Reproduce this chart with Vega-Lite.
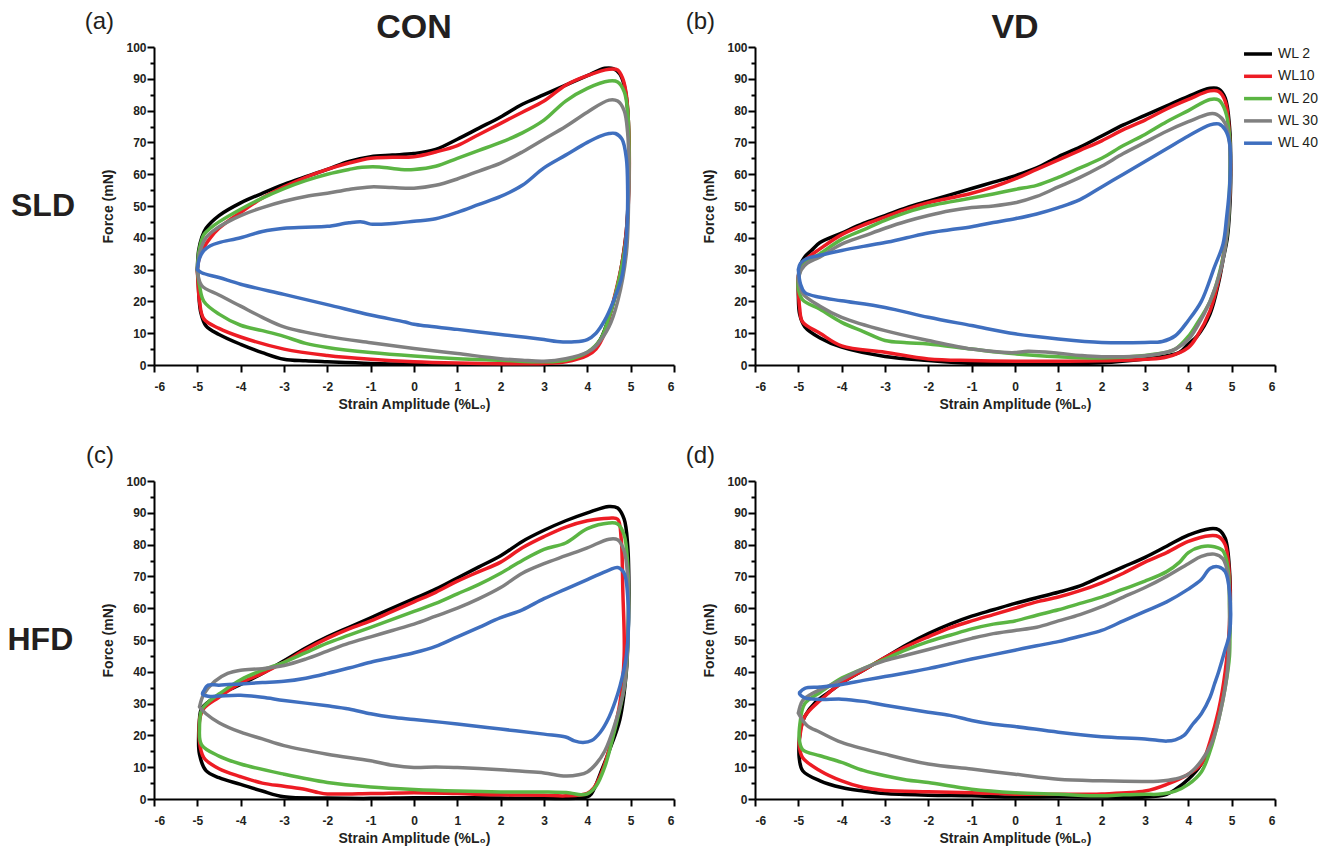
{
"$schema": "https://vega.github.io/schema/vega-lite/v6.json",
"background": "white",
"padding": {"left": 7, "top": 10, "right": 5, "bottom": 5},
"config": {"view": {"stroke": null}, "font": "Liberation Sans"},
"data": {"values": [
{"d":"SLD","g":"CON","lab":"(a)"},
{"d":"SLD","g":"VD","lab":"(b)"},
{"d":"HFD","g":"CON","lab":"(c)"},
{"d":"HFD","g":"VD","lab":"(d)"},
{"d":"SLD","g":"CON","s":"WL 2","x":-5,"y":30},{"d":"SLD","g":"CON","s":"WL 2","x":-4.97,"y":36},{"d":"SLD","g":"CON","s":"WL 2","x":-4.9,"y":40},{"d":"SLD","g":"CON","s":"WL 2","x":-4.8,"y":43},{"d":"SLD","g":"CON","s":"WL 2","x":-4.5,"y":47},{"d":"SLD","g":"CON","s":"WL 2","x":-4,"y":51},{"d":"SLD","g":"CON","s":"WL 2","x":-3.5,"y":54},{"d":"SLD","g":"CON","s":"WL 2","x":-3,"y":56.8},{"d":"SLD","g":"CON","s":"WL 2","x":-2.5,"y":59.2},{"d":"SLD","g":"CON","s":"WL 2","x":-2,"y":61.5},{"d":"SLD","g":"CON","s":"WL 2","x":-1.5,"y":64},{"d":"SLD","g":"CON","s":"WL 2","x":-1,"y":65.5},{"d":"SLD","g":"CON","s":"WL 2","x":-0.5,"y":66},{"d":"SLD","g":"CON","s":"WL 2","x":0,"y":66.5},{"d":"SLD","g":"CON","s":"WL 2","x":0.5,"y":67.8},{"d":"SLD","g":"CON","s":"WL 2","x":1,"y":71},{"d":"SLD","g":"CON","s":"WL 2","x":1.5,"y":74.5},{"d":"SLD","g":"CON","s":"WL 2","x":2,"y":78},{"d":"SLD","g":"CON","s":"WL 2","x":2.5,"y":82},{"d":"SLD","g":"CON","s":"WL 2","x":3,"y":85},{"d":"SLD","g":"CON","s":"WL 2","x":3.5,"y":88},{"d":"SLD","g":"CON","s":"WL 2","x":4,"y":91},{"d":"SLD","g":"CON","s":"WL 2","x":4.4,"y":93.3},{"d":"SLD","g":"CON","s":"WL 2","x":4.6,"y":93.2},{"d":"SLD","g":"CON","s":"WL 2","x":4.75,"y":91.5},{"d":"SLD","g":"CON","s":"WL 2","x":4.85,"y":88},{"d":"SLD","g":"CON","s":"WL 2","x":4.92,"y":82},{"d":"SLD","g":"CON","s":"WL 2","x":4.96,"y":70},{"d":"SLD","g":"CON","s":"WL 2","x":4.95,"y":55},{"d":"SLD","g":"CON","s":"WL 2","x":4.9,"y":42},{"d":"SLD","g":"CON","s":"WL 2","x":4.8,"y":32},{"d":"SLD","g":"CON","s":"WL 2","x":4.7,"y":25},{"d":"SLD","g":"CON","s":"WL 2","x":4.5,"y":15},{"d":"SLD","g":"CON","s":"WL 2","x":4.3,"y":8},{"d":"SLD","g":"CON","s":"WL 2","x":4.1,"y":4.5},{"d":"SLD","g":"CON","s":"WL 2","x":4,"y":3.4},{"d":"SLD","g":"CON","s":"WL 2","x":3.5,"y":1.3},{"d":"SLD","g":"CON","s":"WL 2","x":3,"y":0.6},{"d":"SLD","g":"CON","s":"WL 2","x":2,"y":0.3},{"d":"SLD","g":"CON","s":"WL 2","x":1,"y":0.3},{"d":"SLD","g":"CON","s":"WL 2","x":0,"y":0.3},{"d":"SLD","g":"CON","s":"WL 2","x":-1,"y":0.5},{"d":"SLD","g":"CON","s":"WL 2","x":-2,"y":1},{"d":"SLD","g":"CON","s":"WL 2","x":-2.5,"y":1.3},{"d":"SLD","g":"CON","s":"WL 2","x":-3,"y":1.8},{"d":"SLD","g":"CON","s":"WL 2","x":-3.5,"y":3.9},{"d":"SLD","g":"CON","s":"WL 2","x":-4,"y":6.5},{"d":"SLD","g":"CON","s":"WL 2","x":-4.5,"y":9.6},{"d":"SLD","g":"CON","s":"WL 2","x":-4.8,"y":12.3},{"d":"SLD","g":"CON","s":"WL 2","x":-4.92,"y":16.5},{"d":"SLD","g":"CON","s":"WL 2","x":-4.96,"y":21},{"d":"SLD","g":"CON","s":"WL 2","x":-4.98,"y":26},{"d":"SLD","g":"CON","s":"WL 2","x":-5,"y":30},
{"d":"SLD","g":"CON","s":"WL10","x":-5,"y":30},{"d":"SLD","g":"CON","s":"WL10","x":-4.95,"y":34},{"d":"SLD","g":"CON","s":"WL10","x":-4.85,"y":37},{"d":"SLD","g":"CON","s":"WL10","x":-4.7,"y":40},{"d":"SLD","g":"CON","s":"WL10","x":-4.5,"y":43},{"d":"SLD","g":"CON","s":"WL10","x":-4,"y":48},{"d":"SLD","g":"CON","s":"WL10","x":-3.5,"y":52.5},{"d":"SLD","g":"CON","s":"WL10","x":-3,"y":56},{"d":"SLD","g":"CON","s":"WL10","x":-2.5,"y":59},{"d":"SLD","g":"CON","s":"WL10","x":-2,"y":61.5},{"d":"SLD","g":"CON","s":"WL10","x":-1.5,"y":63.5},{"d":"SLD","g":"CON","s":"WL10","x":-1,"y":65},{"d":"SLD","g":"CON","s":"WL10","x":-0.5,"y":65.3},{"d":"SLD","g":"CON","s":"WL10","x":0,"y":65.5},{"d":"SLD","g":"CON","s":"WL10","x":0.5,"y":67},{"d":"SLD","g":"CON","s":"WL10","x":1,"y":69},{"d":"SLD","g":"CON","s":"WL10","x":1.5,"y":72.5},{"d":"SLD","g":"CON","s":"WL10","x":2,"y":76},{"d":"SLD","g":"CON","s":"WL10","x":2.5,"y":79.5},{"d":"SLD","g":"CON","s":"WL10","x":3,"y":83},{"d":"SLD","g":"CON","s":"WL10","x":3.5,"y":88},{"d":"SLD","g":"CON","s":"WL10","x":4,"y":91},{"d":"SLD","g":"CON","s":"WL10","x":4.5,"y":93},{"d":"SLD","g":"CON","s":"WL10","x":4.7,"y":92.8},{"d":"SLD","g":"CON","s":"WL10","x":4.82,"y":90},{"d":"SLD","g":"CON","s":"WL10","x":4.9,"y":85},{"d":"SLD","g":"CON","s":"WL10","x":4.96,"y":72},{"d":"SLD","g":"CON","s":"WL10","x":4.96,"y":55},{"d":"SLD","g":"CON","s":"WL10","x":4.9,"y":42},{"d":"SLD","g":"CON","s":"WL10","x":4.8,"y":32},{"d":"SLD","g":"CON","s":"WL10","x":4.6,"y":20},{"d":"SLD","g":"CON","s":"WL10","x":4.4,"y":10},{"d":"SLD","g":"CON","s":"WL10","x":4.2,"y":5},{"d":"SLD","g":"CON","s":"WL10","x":4,"y":3},{"d":"SLD","g":"CON","s":"WL10","x":3.5,"y":1},{"d":"SLD","g":"CON","s":"WL10","x":3,"y":0.5},{"d":"SLD","g":"CON","s":"WL10","x":2,"y":0.4},{"d":"SLD","g":"CON","s":"WL10","x":1,"y":0.6},{"d":"SLD","g":"CON","s":"WL10","x":0,"y":1},{"d":"SLD","g":"CON","s":"WL10","x":-1,"y":1.8},{"d":"SLD","g":"CON","s":"WL10","x":-2,"y":3},{"d":"SLD","g":"CON","s":"WL10","x":-3,"y":5},{"d":"SLD","g":"CON","s":"WL10","x":-4,"y":8.8},{"d":"SLD","g":"CON","s":"WL10","x":-4.5,"y":11.5},{"d":"SLD","g":"CON","s":"WL10","x":-4.85,"y":14.5},{"d":"SLD","g":"CON","s":"WL10","x":-4.95,"y":20},{"d":"SLD","g":"CON","s":"WL10","x":-4.98,"y":25},{"d":"SLD","g":"CON","s":"WL10","x":-5,"y":30},
{"d":"SLD","g":"CON","s":"WL 20","x":-5,"y":30},{"d":"SLD","g":"CON","s":"WL 20","x":-4.96,"y":36},{"d":"SLD","g":"CON","s":"WL 20","x":-4.85,"y":41},{"d":"SLD","g":"CON","s":"WL 20","x":-4.7,"y":43},{"d":"SLD","g":"CON","s":"WL 20","x":-4.5,"y":45},{"d":"SLD","g":"CON","s":"WL 20","x":-4,"y":49},{"d":"SLD","g":"CON","s":"WL 20","x":-3.5,"y":52.5},{"d":"SLD","g":"CON","s":"WL 20","x":-3,"y":55.5},{"d":"SLD","g":"CON","s":"WL 20","x":-2.5,"y":58},{"d":"SLD","g":"CON","s":"WL 20","x":-2,"y":60},{"d":"SLD","g":"CON","s":"WL 20","x":-1.5,"y":61.5},{"d":"SLD","g":"CON","s":"WL 20","x":-1.2,"y":62.2},{"d":"SLD","g":"CON","s":"WL 20","x":-0.8,"y":62.3},{"d":"SLD","g":"CON","s":"WL 20","x":-0.3,"y":61.5},{"d":"SLD","g":"CON","s":"WL 20","x":0,"y":61.5},{"d":"SLD","g":"CON","s":"WL 20","x":0.5,"y":62.5},{"d":"SLD","g":"CON","s":"WL 20","x":1,"y":65},{"d":"SLD","g":"CON","s":"WL 20","x":1.5,"y":67.5},{"d":"SLD","g":"CON","s":"WL 20","x":2,"y":70},{"d":"SLD","g":"CON","s":"WL 20","x":2.5,"y":73},{"d":"SLD","g":"CON","s":"WL 20","x":3,"y":77},{"d":"SLD","g":"CON","s":"WL 20","x":3.5,"y":83},{"d":"SLD","g":"CON","s":"WL 20","x":4,"y":87},{"d":"SLD","g":"CON","s":"WL 20","x":4.5,"y":89.3},{"d":"SLD","g":"CON","s":"WL 20","x":4.7,"y":89},{"d":"SLD","g":"CON","s":"WL 20","x":4.85,"y":86},{"d":"SLD","g":"CON","s":"WL 20","x":4.93,"y":80},{"d":"SLD","g":"CON","s":"WL 20","x":4.96,"y":70},{"d":"SLD","g":"CON","s":"WL 20","x":4.95,"y":55},{"d":"SLD","g":"CON","s":"WL 20","x":4.9,"y":40},{"d":"SLD","g":"CON","s":"WL 20","x":4.7,"y":25},{"d":"SLD","g":"CON","s":"WL 20","x":4.5,"y":15},{"d":"SLD","g":"CON","s":"WL 20","x":4.3,"y":8},{"d":"SLD","g":"CON","s":"WL 20","x":4,"y":4},{"d":"SLD","g":"CON","s":"WL 20","x":3.5,"y":1.5},{"d":"SLD","g":"CON","s":"WL 20","x":3,"y":1},{"d":"SLD","g":"CON","s":"WL 20","x":2,"y":1.5},{"d":"SLD","g":"CON","s":"WL 20","x":1,"y":2},{"d":"SLD","g":"CON","s":"WL 20","x":0,"y":2.8},{"d":"SLD","g":"CON","s":"WL 20","x":-1,"y":3.9},{"d":"SLD","g":"CON","s":"WL 20","x":-2,"y":5.5},{"d":"SLD","g":"CON","s":"WL 20","x":-2.5,"y":6.8},{"d":"SLD","g":"CON","s":"WL 20","x":-3,"y":9},{"d":"SLD","g":"CON","s":"WL 20","x":-3.5,"y":10.8},{"d":"SLD","g":"CON","s":"WL 20","x":-4,"y":12.5},{"d":"SLD","g":"CON","s":"WL 20","x":-4.5,"y":16},{"d":"SLD","g":"CON","s":"WL 20","x":-4.85,"y":20},{"d":"SLD","g":"CON","s":"WL 20","x":-4.95,"y":25},{"d":"SLD","g":"CON","s":"WL 20","x":-5,"y":30},
{"d":"SLD","g":"CON","s":"WL 30","x":-5,"y":30},{"d":"SLD","g":"CON","s":"WL 30","x":-4.93,"y":36},{"d":"SLD","g":"CON","s":"WL 30","x":-4.8,"y":40},{"d":"SLD","g":"CON","s":"WL 30","x":-4.6,"y":42.5},{"d":"SLD","g":"CON","s":"WL 30","x":-4.3,"y":45},{"d":"SLD","g":"CON","s":"WL 30","x":-4,"y":47},{"d":"SLD","g":"CON","s":"WL 30","x":-3.5,"y":49.5},{"d":"SLD","g":"CON","s":"WL 30","x":-3,"y":51.5},{"d":"SLD","g":"CON","s":"WL 30","x":-2.5,"y":53},{"d":"SLD","g":"CON","s":"WL 30","x":-2,"y":54},{"d":"SLD","g":"CON","s":"WL 30","x":-1.5,"y":55.2},{"d":"SLD","g":"CON","s":"WL 30","x":-1,"y":56},{"d":"SLD","g":"CON","s":"WL 30","x":-0.5,"y":55.8},{"d":"SLD","g":"CON","s":"WL 30","x":0,"y":55.6},{"d":"SLD","g":"CON","s":"WL 30","x":0.5,"y":56.5},{"d":"SLD","g":"CON","s":"WL 30","x":1,"y":58.5},{"d":"SLD","g":"CON","s":"WL 30","x":1.5,"y":61},{"d":"SLD","g":"CON","s":"WL 30","x":2,"y":63.5},{"d":"SLD","g":"CON","s":"WL 30","x":2.5,"y":67},{"d":"SLD","g":"CON","s":"WL 30","x":3,"y":71},{"d":"SLD","g":"CON","s":"WL 30","x":3.5,"y":75},{"d":"SLD","g":"CON","s":"WL 30","x":4,"y":79.5},{"d":"SLD","g":"CON","s":"WL 30","x":4.5,"y":83.3},{"d":"SLD","g":"CON","s":"WL 30","x":4.7,"y":83},{"d":"SLD","g":"CON","s":"WL 30","x":4.85,"y":80},{"d":"SLD","g":"CON","s":"WL 30","x":4.93,"y":73},{"d":"SLD","g":"CON","s":"WL 30","x":4.96,"y":62},{"d":"SLD","g":"CON","s":"WL 30","x":4.95,"y":50},{"d":"SLD","g":"CON","s":"WL 30","x":4.9,"y":35},{"d":"SLD","g":"CON","s":"WL 30","x":4.7,"y":20},{"d":"SLD","g":"CON","s":"WL 30","x":4.5,"y":12},{"d":"SLD","g":"CON","s":"WL 30","x":4.2,"y":6},{"d":"SLD","g":"CON","s":"WL 30","x":4,"y":4},{"d":"SLD","g":"CON","s":"WL 30","x":3.5,"y":2},{"d":"SLD","g":"CON","s":"WL 30","x":3,"y":1.2},{"d":"SLD","g":"CON","s":"WL 30","x":2.5,"y":1.5},{"d":"SLD","g":"CON","s":"WL 30","x":2,"y":2},{"d":"SLD","g":"CON","s":"WL 30","x":1,"y":3.6},{"d":"SLD","g":"CON","s":"WL 30","x":0,"y":5.2},{"d":"SLD","g":"CON","s":"WL 30","x":-1,"y":7},{"d":"SLD","g":"CON","s":"WL 30","x":-2,"y":9},{"d":"SLD","g":"CON","s":"WL 30","x":-3,"y":12},{"d":"SLD","g":"CON","s":"WL 30","x":-3.5,"y":15},{"d":"SLD","g":"CON","s":"WL 30","x":-4,"y":18.5},{"d":"SLD","g":"CON","s":"WL 30","x":-4.5,"y":22},{"d":"SLD","g":"CON","s":"WL 30","x":-4.9,"y":25},{"d":"SLD","g":"CON","s":"WL 30","x":-5,"y":30},
{"d":"SLD","g":"CON","s":"WL 40","x":-5,"y":30},{"d":"SLD","g":"CON","s":"WL 40","x":-4.95,"y":33.5},{"d":"SLD","g":"CON","s":"WL 40","x":-4.85,"y":36},{"d":"SLD","g":"CON","s":"WL 40","x":-4.7,"y":37.5},{"d":"SLD","g":"CON","s":"WL 40","x":-4.5,"y":38.5},{"d":"SLD","g":"CON","s":"WL 40","x":-4,"y":40},{"d":"SLD","g":"CON","s":"WL 40","x":-3.5,"y":42},{"d":"SLD","g":"CON","s":"WL 40","x":-3,"y":43},{"d":"SLD","g":"CON","s":"WL 40","x":-2.5,"y":43.3},{"d":"SLD","g":"CON","s":"WL 40","x":-2,"y":43.6},{"d":"SLD","g":"CON","s":"WL 40","x":-1.5,"y":44.7},{"d":"SLD","g":"CON","s":"WL 40","x":-1.2,"y":45},{"d":"SLD","g":"CON","s":"WL 40","x":-1,"y":44.3},{"d":"SLD","g":"CON","s":"WL 40","x":-0.5,"y":44.5},{"d":"SLD","g":"CON","s":"WL 40","x":0,"y":45.2},{"d":"SLD","g":"CON","s":"WL 40","x":0.5,"y":46},{"d":"SLD","g":"CON","s":"WL 40","x":1,"y":48},{"d":"SLD","g":"CON","s":"WL 40","x":1.5,"y":50.5},{"d":"SLD","g":"CON","s":"WL 40","x":2,"y":53},{"d":"SLD","g":"CON","s":"WL 40","x":2.5,"y":56.5},{"d":"SLD","g":"CON","s":"WL 40","x":3,"y":62},{"d":"SLD","g":"CON","s":"WL 40","x":3.5,"y":66},{"d":"SLD","g":"CON","s":"WL 40","x":4,"y":70},{"d":"SLD","g":"CON","s":"WL 40","x":4.3,"y":72},{"d":"SLD","g":"CON","s":"WL 40","x":4.5,"y":72.8},{"d":"SLD","g":"CON","s":"WL 40","x":4.65,"y":72.8},{"d":"SLD","g":"CON","s":"WL 40","x":4.8,"y":71},{"d":"SLD","g":"CON","s":"WL 40","x":4.9,"y":65},{"d":"SLD","g":"CON","s":"WL 40","x":4.93,"y":55},{"d":"SLD","g":"CON","s":"WL 40","x":4.92,"y":45},{"d":"SLD","g":"CON","s":"WL 40","x":4.88,"y":37},{"d":"SLD","g":"CON","s":"WL 40","x":4.8,"y":28},{"d":"SLD","g":"CON","s":"WL 40","x":4.6,"y":20},{"d":"SLD","g":"CON","s":"WL 40","x":4.4,"y":14},{"d":"SLD","g":"CON","s":"WL 40","x":4.2,"y":10},{"d":"SLD","g":"CON","s":"WL 40","x":4,"y":8},{"d":"SLD","g":"CON","s":"WL 40","x":3.7,"y":7.3},{"d":"SLD","g":"CON","s":"WL 40","x":3.3,"y":7.4},{"d":"SLD","g":"CON","s":"WL 40","x":3,"y":8},{"d":"SLD","g":"CON","s":"WL 40","x":2,"y":9.6},{"d":"SLD","g":"CON","s":"WL 40","x":1,"y":11.2},{"d":"SLD","g":"CON","s":"WL 40","x":0,"y":12.8},{"d":"SLD","g":"CON","s":"WL 40","x":-0.2,"y":13.5},{"d":"SLD","g":"CON","s":"WL 40","x":-1,"y":15.7},{"d":"SLD","g":"CON","s":"WL 40","x":-2,"y":19},{"d":"SLD","g":"CON","s":"WL 40","x":-3,"y":22.2},{"d":"SLD","g":"CON","s":"WL 40","x":-4,"y":25.4},{"d":"SLD","g":"CON","s":"WL 40","x":-4.5,"y":27.5},{"d":"SLD","g":"CON","s":"WL 40","x":-4.9,"y":29},{"d":"SLD","g":"CON","s":"WL 40","x":-5,"y":30},
{"d":"SLD","g":"VD","s":"WL 2","x":-5,"y":28},{"d":"SLD","g":"VD","s":"WL 2","x":-4.95,"y":31.5},{"d":"SLD","g":"VD","s":"WL 2","x":-4.85,"y":34},{"d":"SLD","g":"VD","s":"WL 2","x":-4.7,"y":36},{"d":"SLD","g":"VD","s":"WL 2","x":-4.5,"y":38.5},{"d":"SLD","g":"VD","s":"WL 2","x":-4,"y":41.5},{"d":"SLD","g":"VD","s":"WL 2","x":-3.5,"y":44.5},{"d":"SLD","g":"VD","s":"WL 2","x":-3,"y":47},{"d":"SLD","g":"VD","s":"WL 2","x":-2.5,"y":49.5},{"d":"SLD","g":"VD","s":"WL 2","x":-2,"y":51.5},{"d":"SLD","g":"VD","s":"WL 2","x":-1.5,"y":53.5},{"d":"SLD","g":"VD","s":"WL 2","x":-1,"y":55.5},{"d":"SLD","g":"VD","s":"WL 2","x":-0.5,"y":57.5},{"d":"SLD","g":"VD","s":"WL 2","x":0,"y":59.5},{"d":"SLD","g":"VD","s":"WL 2","x":0.5,"y":62},{"d":"SLD","g":"VD","s":"WL 2","x":1,"y":65.5},{"d":"SLD","g":"VD","s":"WL 2","x":1.5,"y":68.5},{"d":"SLD","g":"VD","s":"WL 2","x":2,"y":72},{"d":"SLD","g":"VD","s":"WL 2","x":2.5,"y":75.5},{"d":"SLD","g":"VD","s":"WL 2","x":3,"y":78.5},{"d":"SLD","g":"VD","s":"WL 2","x":3.5,"y":81.5},{"d":"SLD","g":"VD","s":"WL 2","x":4,"y":84.5},{"d":"SLD","g":"VD","s":"WL 2","x":4.5,"y":87},{"d":"SLD","g":"VD","s":"WL 2","x":4.7,"y":86.8},{"d":"SLD","g":"VD","s":"WL 2","x":4.85,"y":84},{"d":"SLD","g":"VD","s":"WL 2","x":4.95,"y":75},{"d":"SLD","g":"VD","s":"WL 2","x":4.98,"y":60},{"d":"SLD","g":"VD","s":"WL 2","x":4.95,"y":48},{"d":"SLD","g":"VD","s":"WL 2","x":4.9,"y":40},{"d":"SLD","g":"VD","s":"WL 2","x":4.8,"y":33},{"d":"SLD","g":"VD","s":"WL 2","x":4.7,"y":26},{"d":"SLD","g":"VD","s":"WL 2","x":4.5,"y":16},{"d":"SLD","g":"VD","s":"WL 2","x":4.2,"y":9},{"d":"SLD","g":"VD","s":"WL 2","x":4,"y":6.6},{"d":"SLD","g":"VD","s":"WL 2","x":3.8,"y":4},{"d":"SLD","g":"VD","s":"WL 2","x":3.5,"y":2.9},{"d":"SLD","g":"VD","s":"WL 2","x":3,"y":1.9},{"d":"SLD","g":"VD","s":"WL 2","x":2,"y":0.7},{"d":"SLD","g":"VD","s":"WL 2","x":1,"y":0.5},{"d":"SLD","g":"VD","s":"WL 2","x":0,"y":0.5},{"d":"SLD","g":"VD","s":"WL 2","x":-1,"y":0.5},{"d":"SLD","g":"VD","s":"WL 2","x":-2,"y":1.4},{"d":"SLD","g":"VD","s":"WL 2","x":-3,"y":2.7},{"d":"SLD","g":"VD","s":"WL 2","x":-4,"y":5.6},{"d":"SLD","g":"VD","s":"WL 2","x":-4.5,"y":8.5},{"d":"SLD","g":"VD","s":"WL 2","x":-4.85,"y":12},{"d":"SLD","g":"VD","s":"WL 2","x":-4.97,"y":16},{"d":"SLD","g":"VD","s":"WL 2","x":-5,"y":22},{"d":"SLD","g":"VD","s":"WL 2","x":-5,"y":28},
{"d":"SLD","g":"VD","s":"WL10","x":-5,"y":27},{"d":"SLD","g":"VD","s":"WL10","x":-4.95,"y":31},{"d":"SLD","g":"VD","s":"WL10","x":-4.8,"y":33.5},{"d":"SLD","g":"VD","s":"WL10","x":-4.5,"y":36.5},{"d":"SLD","g":"VD","s":"WL10","x":-4,"y":41},{"d":"SLD","g":"VD","s":"WL10","x":-3.5,"y":44},{"d":"SLD","g":"VD","s":"WL10","x":-3,"y":46.5},{"d":"SLD","g":"VD","s":"WL10","x":-2.5,"y":49},{"d":"SLD","g":"VD","s":"WL10","x":-2,"y":51},{"d":"SLD","g":"VD","s":"WL10","x":-1.5,"y":52.5},{"d":"SLD","g":"VD","s":"WL10","x":-1,"y":54},{"d":"SLD","g":"VD","s":"WL10","x":-0.5,"y":56},{"d":"SLD","g":"VD","s":"WL10","x":0,"y":58.5},{"d":"SLD","g":"VD","s":"WL10","x":0.5,"y":61.5},{"d":"SLD","g":"VD","s":"WL10","x":1,"y":64.5},{"d":"SLD","g":"VD","s":"WL10","x":1.5,"y":67.5},{"d":"SLD","g":"VD","s":"WL10","x":2,"y":70.5},{"d":"SLD","g":"VD","s":"WL10","x":2.5,"y":74},{"d":"SLD","g":"VD","s":"WL10","x":3,"y":77},{"d":"SLD","g":"VD","s":"WL10","x":3.5,"y":80.5},{"d":"SLD","g":"VD","s":"WL10","x":4,"y":83.5},{"d":"SLD","g":"VD","s":"WL10","x":4.5,"y":86.2},{"d":"SLD","g":"VD","s":"WL10","x":4.7,"y":86},{"d":"SLD","g":"VD","s":"WL10","x":4.85,"y":83},{"d":"SLD","g":"VD","s":"WL10","x":4.95,"y":72},{"d":"SLD","g":"VD","s":"WL10","x":4.96,"y":55},{"d":"SLD","g":"VD","s":"WL10","x":4.88,"y":42},{"d":"SLD","g":"VD","s":"WL10","x":4.75,"y":30},{"d":"SLD","g":"VD","s":"WL10","x":4.5,"y":17},{"d":"SLD","g":"VD","s":"WL10","x":4.2,"y":9},{"d":"SLD","g":"VD","s":"WL10","x":4,"y":5.5},{"d":"SLD","g":"VD","s":"WL10","x":3.5,"y":2.5},{"d":"SLD","g":"VD","s":"WL10","x":3,"y":1.8},{"d":"SLD","g":"VD","s":"WL10","x":2,"y":1.3},{"d":"SLD","g":"VD","s":"WL10","x":1,"y":1.2},{"d":"SLD","g":"VD","s":"WL10","x":0,"y":1.2},{"d":"SLD","g":"VD","s":"WL10","x":-1,"y":1.4},{"d":"SLD","g":"VD","s":"WL10","x":-2,"y":1.9},{"d":"SLD","g":"VD","s":"WL10","x":-3,"y":4},{"d":"SLD","g":"VD","s":"WL10","x":-4,"y":6},{"d":"SLD","g":"VD","s":"WL10","x":-4.5,"y":10},{"d":"SLD","g":"VD","s":"WL10","x":-4.9,"y":13.5},{"d":"SLD","g":"VD","s":"WL10","x":-4.97,"y":18},{"d":"SLD","g":"VD","s":"WL10","x":-5,"y":24},{"d":"SLD","g":"VD","s":"WL10","x":-5,"y":27},
{"d":"SLD","g":"VD","s":"WL 20","x":-5,"y":27},{"d":"SLD","g":"VD","s":"WL 20","x":-4.93,"y":30.5},{"d":"SLD","g":"VD","s":"WL 20","x":-4.8,"y":32.5},{"d":"SLD","g":"VD","s":"WL 20","x":-4.5,"y":35},{"d":"SLD","g":"VD","s":"WL 20","x":-4,"y":39.5},{"d":"SLD","g":"VD","s":"WL 20","x":-3.5,"y":42.5},{"d":"SLD","g":"VD","s":"WL 20","x":-3,"y":45.5},{"d":"SLD","g":"VD","s":"WL 20","x":-2.5,"y":48},{"d":"SLD","g":"VD","s":"WL 20","x":-2,"y":50},{"d":"SLD","g":"VD","s":"WL 20","x":-1.5,"y":51.3},{"d":"SLD","g":"VD","s":"WL 20","x":-1,"y":52.5},{"d":"SLD","g":"VD","s":"WL 20","x":-0.5,"y":53.8},{"d":"SLD","g":"VD","s":"WL 20","x":0,"y":55.2},{"d":"SLD","g":"VD","s":"WL 20","x":0.5,"y":56.5},{"d":"SLD","g":"VD","s":"WL 20","x":1,"y":59},{"d":"SLD","g":"VD","s":"WL 20","x":1.5,"y":62},{"d":"SLD","g":"VD","s":"WL 20","x":2,"y":65},{"d":"SLD","g":"VD","s":"WL 20","x":2.5,"y":69},{"d":"SLD","g":"VD","s":"WL 20","x":3,"y":72.5},{"d":"SLD","g":"VD","s":"WL 20","x":3.5,"y":76.5},{"d":"SLD","g":"VD","s":"WL 20","x":4,"y":80},{"d":"SLD","g":"VD","s":"WL 20","x":4.5,"y":83.5},{"d":"SLD","g":"VD","s":"WL 20","x":4.7,"y":83.3},{"d":"SLD","g":"VD","s":"WL 20","x":4.85,"y":80},{"d":"SLD","g":"VD","s":"WL 20","x":4.95,"y":72},{"d":"SLD","g":"VD","s":"WL 20","x":4.95,"y":55},{"d":"SLD","g":"VD","s":"WL 20","x":4.9,"y":42},{"d":"SLD","g":"VD","s":"WL 20","x":4.7,"y":28},{"d":"SLD","g":"VD","s":"WL 20","x":4.5,"y":20},{"d":"SLD","g":"VD","s":"WL 20","x":4.2,"y":13},{"d":"SLD","g":"VD","s":"WL 20","x":4,"y":9},{"d":"SLD","g":"VD","s":"WL 20","x":3.7,"y":5},{"d":"SLD","g":"VD","s":"WL 20","x":3.5,"y":4},{"d":"SLD","g":"VD","s":"WL 20","x":3,"y":3},{"d":"SLD","g":"VD","s":"WL 20","x":2,"y":2.2},{"d":"SLD","g":"VD","s":"WL 20","x":1,"y":2.6},{"d":"SLD","g":"VD","s":"WL 20","x":0,"y":3.5},{"d":"SLD","g":"VD","s":"WL 20","x":-1,"y":5},{"d":"SLD","g":"VD","s":"WL 20","x":-2,"y":6.6},{"d":"SLD","g":"VD","s":"WL 20","x":-2.5,"y":7},{"d":"SLD","g":"VD","s":"WL 20","x":-3,"y":7.7},{"d":"SLD","g":"VD","s":"WL 20","x":-3.5,"y":10.5},{"d":"SLD","g":"VD","s":"WL 20","x":-4,"y":13.4},{"d":"SLD","g":"VD","s":"WL 20","x":-4.5,"y":17.5},{"d":"SLD","g":"VD","s":"WL 20","x":-4.9,"y":20.5},{"d":"SLD","g":"VD","s":"WL 20","x":-5,"y":24},{"d":"SLD","g":"VD","s":"WL 20","x":-5,"y":27},
{"d":"SLD","g":"VD","s":"WL 30","x":-5,"y":27},{"d":"SLD","g":"VD","s":"WL 30","x":-4.93,"y":30},{"d":"SLD","g":"VD","s":"WL 30","x":-4.8,"y":32},{"d":"SLD","g":"VD","s":"WL 30","x":-4.5,"y":34},{"d":"SLD","g":"VD","s":"WL 30","x":-4,"y":38},{"d":"SLD","g":"VD","s":"WL 30","x":-3.5,"y":40.5},{"d":"SLD","g":"VD","s":"WL 30","x":-3,"y":43},{"d":"SLD","g":"VD","s":"WL 30","x":-2.5,"y":45.2},{"d":"SLD","g":"VD","s":"WL 30","x":-2,"y":47},{"d":"SLD","g":"VD","s":"WL 30","x":-1.5,"y":48.5},{"d":"SLD","g":"VD","s":"WL 30","x":-1,"y":49.5},{"d":"SLD","g":"VD","s":"WL 30","x":-0.5,"y":50},{"d":"SLD","g":"VD","s":"WL 30","x":0,"y":51},{"d":"SLD","g":"VD","s":"WL 30","x":0.5,"y":53},{"d":"SLD","g":"VD","s":"WL 30","x":1,"y":56},{"d":"SLD","g":"VD","s":"WL 30","x":1.5,"y":59},{"d":"SLD","g":"VD","s":"WL 30","x":2,"y":62.5},{"d":"SLD","g":"VD","s":"WL 30","x":2.5,"y":66.5},{"d":"SLD","g":"VD","s":"WL 30","x":3,"y":70},{"d":"SLD","g":"VD","s":"WL 30","x":3.5,"y":73.5},{"d":"SLD","g":"VD","s":"WL 30","x":4,"y":76.5},{"d":"SLD","g":"VD","s":"WL 30","x":4.5,"y":79},{"d":"SLD","g":"VD","s":"WL 30","x":4.65,"y":78.8},{"d":"SLD","g":"VD","s":"WL 30","x":4.85,"y":76},{"d":"SLD","g":"VD","s":"WL 30","x":4.95,"y":70},{"d":"SLD","g":"VD","s":"WL 30","x":4.96,"y":55},{"d":"SLD","g":"VD","s":"WL 30","x":4.88,"y":40},{"d":"SLD","g":"VD","s":"WL 30","x":4.75,"y":30},{"d":"SLD","g":"VD","s":"WL 30","x":4.5,"y":20},{"d":"SLD","g":"VD","s":"WL 30","x":4.2,"y":12},{"d":"SLD","g":"VD","s":"WL 30","x":4,"y":8},{"d":"SLD","g":"VD","s":"WL 30","x":3.7,"y":5},{"d":"SLD","g":"VD","s":"WL 30","x":3.5,"y":4},{"d":"SLD","g":"VD","s":"WL 30","x":3,"y":2.9},{"d":"SLD","g":"VD","s":"WL 30","x":2,"y":2.6},{"d":"SLD","g":"VD","s":"WL 30","x":1.5,"y":3},{"d":"SLD","g":"VD","s":"WL 30","x":1,"y":3.7},{"d":"SLD","g":"VD","s":"WL 30","x":0.3,"y":4.3},{"d":"SLD","g":"VD","s":"WL 30","x":0,"y":3.9},{"d":"SLD","g":"VD","s":"WL 30","x":-0.3,"y":4},{"d":"SLD","g":"VD","s":"WL 30","x":-1,"y":5},{"d":"SLD","g":"VD","s":"WL 30","x":-2,"y":7.7},{"d":"SLD","g":"VD","s":"WL 30","x":-3,"y":10.8},{"d":"SLD","g":"VD","s":"WL 30","x":-4,"y":15},{"d":"SLD","g":"VD","s":"WL 30","x":-4.5,"y":18.5},{"d":"SLD","g":"VD","s":"WL 30","x":-4.9,"y":22.5},{"d":"SLD","g":"VD","s":"WL 30","x":-5,"y":27},
{"d":"SLD","g":"VD","s":"WL 40","x":-5,"y":30},{"d":"SLD","g":"VD","s":"WL 40","x":-4.95,"y":32},{"d":"SLD","g":"VD","s":"WL 40","x":-4.8,"y":33.5},{"d":"SLD","g":"VD","s":"WL 40","x":-4.5,"y":34.5},{"d":"SLD","g":"VD","s":"WL 40","x":-4,"y":36},{"d":"SLD","g":"VD","s":"WL 40","x":-3.5,"y":37.3},{"d":"SLD","g":"VD","s":"WL 40","x":-3,"y":38.5},{"d":"SLD","g":"VD","s":"WL 40","x":-2.5,"y":40},{"d":"SLD","g":"VD","s":"WL 40","x":-2,"y":41.5},{"d":"SLD","g":"VD","s":"WL 40","x":-1.5,"y":42.5},{"d":"SLD","g":"VD","s":"WL 40","x":-1,"y":43.5},{"d":"SLD","g":"VD","s":"WL 40","x":-0.5,"y":44.8},{"d":"SLD","g":"VD","s":"WL 40","x":0,"y":46},{"d":"SLD","g":"VD","s":"WL 40","x":0.5,"y":47.5},{"d":"SLD","g":"VD","s":"WL 40","x":1,"y":49.5},{"d":"SLD","g":"VD","s":"WL 40","x":1.5,"y":52},{"d":"SLD","g":"VD","s":"WL 40","x":2,"y":56},{"d":"SLD","g":"VD","s":"WL 40","x":2.5,"y":60},{"d":"SLD","g":"VD","s":"WL 40","x":3,"y":64},{"d":"SLD","g":"VD","s":"WL 40","x":3.5,"y":68},{"d":"SLD","g":"VD","s":"WL 40","x":4,"y":72},{"d":"SLD","g":"VD","s":"WL 40","x":4.5,"y":75.5},{"d":"SLD","g":"VD","s":"WL 40","x":4.7,"y":75.8},{"d":"SLD","g":"VD","s":"WL 40","x":4.85,"y":74},{"d":"SLD","g":"VD","s":"WL 40","x":4.95,"y":70},{"d":"SLD","g":"VD","s":"WL 40","x":4.96,"y":58},{"d":"SLD","g":"VD","s":"WL 40","x":4.88,"y":46},{"d":"SLD","g":"VD","s":"WL 40","x":4.8,"y":38},{"d":"SLD","g":"VD","s":"WL 40","x":4.6,"y":30.7},{"d":"SLD","g":"VD","s":"WL 40","x":4.3,"y":20},{"d":"SLD","g":"VD","s":"WL 40","x":4,"y":14},{"d":"SLD","g":"VD","s":"WL 40","x":3.7,"y":9.2},{"d":"SLD","g":"VD","s":"WL 40","x":3.4,"y":7.4},{"d":"SLD","g":"VD","s":"WL 40","x":3,"y":7.1},{"d":"SLD","g":"VD","s":"WL 40","x":2,"y":7.1},{"d":"SLD","g":"VD","s":"WL 40","x":1,"y":8.2},{"d":"SLD","g":"VD","s":"WL 40","x":0,"y":9.8},{"d":"SLD","g":"VD","s":"WL 40","x":-1,"y":12.4},{"d":"SLD","g":"VD","s":"WL 40","x":-2,"y":15},{"d":"SLD","g":"VD","s":"WL 40","x":-3,"y":18.1},{"d":"SLD","g":"VD","s":"WL 40","x":-4,"y":20.2},{"d":"SLD","g":"VD","s":"WL 40","x":-4.5,"y":21.3},{"d":"SLD","g":"VD","s":"WL 40","x":-4.85,"y":22.8},{"d":"SLD","g":"VD","s":"WL 40","x":-4.95,"y":25.5},{"d":"SLD","g":"VD","s":"WL 40","x":-5,"y":30},
{"d":"HFD","g":"CON","s":"WL 2","x":-4.95,"y":25},{"d":"HFD","g":"CON","s":"WL 2","x":-4.9,"y":28.5},{"d":"HFD","g":"CON","s":"WL 2","x":-4.7,"y":31},{"d":"HFD","g":"CON","s":"WL 2","x":-4.4,"y":33.5},{"d":"HFD","g":"CON","s":"WL 2","x":-4,"y":36},{"d":"HFD","g":"CON","s":"WL 2","x":-3.5,"y":39.5},{"d":"HFD","g":"CON","s":"WL 2","x":-3,"y":43.5},{"d":"HFD","g":"CON","s":"WL 2","x":-2.5,"y":47.5},{"d":"HFD","g":"CON","s":"WL 2","x":-2,"y":51},{"d":"HFD","g":"CON","s":"WL 2","x":-1.5,"y":54},{"d":"HFD","g":"CON","s":"WL 2","x":-1,"y":57},{"d":"HFD","g":"CON","s":"WL 2","x":-0.5,"y":60},{"d":"HFD","g":"CON","s":"WL 2","x":0,"y":63},{"d":"HFD","g":"CON","s":"WL 2","x":0.5,"y":66},{"d":"HFD","g":"CON","s":"WL 2","x":1,"y":69.5},{"d":"HFD","g":"CON","s":"WL 2","x":1.5,"y":73},{"d":"HFD","g":"CON","s":"WL 2","x":2,"y":76.5},{"d":"HFD","g":"CON","s":"WL 2","x":2.5,"y":81},{"d":"HFD","g":"CON","s":"WL 2","x":3,"y":84.5},{"d":"HFD","g":"CON","s":"WL 2","x":3.5,"y":87.5},{"d":"HFD","g":"CON","s":"WL 2","x":4,"y":90},{"d":"HFD","g":"CON","s":"WL 2","x":4.5,"y":92},{"d":"HFD","g":"CON","s":"WL 2","x":4.7,"y":91.5},{"d":"HFD","g":"CON","s":"WL 2","x":4.85,"y":88},{"d":"HFD","g":"CON","s":"WL 2","x":4.93,"y":80},{"d":"HFD","g":"CON","s":"WL 2","x":4.96,"y":65},{"d":"HFD","g":"CON","s":"WL 2","x":4.94,"y":52},{"d":"HFD","g":"CON","s":"WL 2","x":4.9,"y":40},{"d":"HFD","g":"CON","s":"WL 2","x":4.75,"y":25},{"d":"HFD","g":"CON","s":"WL 2","x":4.5,"y":15},{"d":"HFD","g":"CON","s":"WL 2","x":4.3,"y":8},{"d":"HFD","g":"CON","s":"WL 2","x":4.15,"y":3},{"d":"HFD","g":"CON","s":"WL 2","x":4.05,"y":1},{"d":"HFD","g":"CON","s":"WL 2","x":3.8,"y":0.3},{"d":"HFD","g":"CON","s":"WL 2","x":3,"y":0.2},{"d":"HFD","g":"CON","s":"WL 2","x":2,"y":0.3},{"d":"HFD","g":"CON","s":"WL 2","x":1,"y":0.4},{"d":"HFD","g":"CON","s":"WL 2","x":0,"y":0.4},{"d":"HFD","g":"CON","s":"WL 2","x":-1,"y":0.2},{"d":"HFD","g":"CON","s":"WL 2","x":-2,"y":0.3},{"d":"HFD","g":"CON","s":"WL 2","x":-3,"y":0.7},{"d":"HFD","g":"CON","s":"WL 2","x":-3.5,"y":2.5},{"d":"HFD","g":"CON","s":"WL 2","x":-4,"y":4.6},{"d":"HFD","g":"CON","s":"WL 2","x":-4.5,"y":6.7},{"d":"HFD","g":"CON","s":"WL 2","x":-4.8,"y":8.9},{"d":"HFD","g":"CON","s":"WL 2","x":-4.95,"y":14},{"d":"HFD","g":"CON","s":"WL 2","x":-4.97,"y":20},{"d":"HFD","g":"CON","s":"WL 2","x":-4.95,"y":25},
{"d":"HFD","g":"CON","s":"WL10","x":-4.95,"y":25},{"d":"HFD","g":"CON","s":"WL10","x":-4.85,"y":28.5},{"d":"HFD","g":"CON","s":"WL10","x":-4.5,"y":32},{"d":"HFD","g":"CON","s":"WL10","x":-4,"y":36.5},{"d":"HFD","g":"CON","s":"WL10","x":-3.5,"y":39.5},{"d":"HFD","g":"CON","s":"WL10","x":-3,"y":43},{"d":"HFD","g":"CON","s":"WL10","x":-2.5,"y":47},{"d":"HFD","g":"CON","s":"WL10","x":-2,"y":50.5},{"d":"HFD","g":"CON","s":"WL10","x":-1.5,"y":53.5},{"d":"HFD","g":"CON","s":"WL10","x":-1,"y":56},{"d":"HFD","g":"CON","s":"WL10","x":-0.5,"y":59},{"d":"HFD","g":"CON","s":"WL10","x":0,"y":62},{"d":"HFD","g":"CON","s":"WL10","x":0.5,"y":65},{"d":"HFD","g":"CON","s":"WL10","x":1,"y":68.5},{"d":"HFD","g":"CON","s":"WL10","x":1.5,"y":71.5},{"d":"HFD","g":"CON","s":"WL10","x":2,"y":74.5},{"d":"HFD","g":"CON","s":"WL10","x":2.5,"y":79},{"d":"HFD","g":"CON","s":"WL10","x":3,"y":82.5},{"d":"HFD","g":"CON","s":"WL10","x":3.5,"y":85.5},{"d":"HFD","g":"CON","s":"WL10","x":4,"y":87.5},{"d":"HFD","g":"CON","s":"WL10","x":4.5,"y":88.3},{"d":"HFD","g":"CON","s":"WL10","x":4.7,"y":88},{"d":"HFD","g":"CON","s":"WL10","x":4.78,"y":82},{"d":"HFD","g":"CON","s":"WL10","x":4.82,"y":65},{"d":"HFD","g":"CON","s":"WL10","x":4.85,"y":45},{"d":"HFD","g":"CON","s":"WL10","x":4.75,"y":30},{"d":"HFD","g":"CON","s":"WL10","x":4.55,"y":18},{"d":"HFD","g":"CON","s":"WL10","x":4.35,"y":9},{"d":"HFD","g":"CON","s":"WL10","x":4.15,"y":3.5},{"d":"HFD","g":"CON","s":"WL10","x":4,"y":1.8},{"d":"HFD","g":"CON","s":"WL10","x":3.5,"y":1},{"d":"HFD","g":"CON","s":"WL10","x":3,"y":1.2},{"d":"HFD","g":"CON","s":"WL10","x":2,"y":1.3},{"d":"HFD","g":"CON","s":"WL10","x":1,"y":1.7},{"d":"HFD","g":"CON","s":"WL10","x":0,"y":2},{"d":"HFD","g":"CON","s":"WL10","x":-1,"y":1.7},{"d":"HFD","g":"CON","s":"WL10","x":-2,"y":1.6},{"d":"HFD","g":"CON","s":"WL10","x":-2.2,"y":2},{"d":"HFD","g":"CON","s":"WL10","x":-2.5,"y":3},{"d":"HFD","g":"CON","s":"WL10","x":-3,"y":4},{"d":"HFD","g":"CON","s":"WL10","x":-3.5,"y":5},{"d":"HFD","g":"CON","s":"WL10","x":-4,"y":7},{"d":"HFD","g":"CON","s":"WL10","x":-4.5,"y":9.5},{"d":"HFD","g":"CON","s":"WL10","x":-4.85,"y":13},{"d":"HFD","g":"CON","s":"WL10","x":-4.95,"y":18},{"d":"HFD","g":"CON","s":"WL10","x":-4.95,"y":25},
{"d":"HFD","g":"CON","s":"WL 20","x":-4.95,"y":22},{"d":"HFD","g":"CON","s":"WL 20","x":-4.9,"y":28},{"d":"HFD","g":"CON","s":"WL 20","x":-4.7,"y":31},{"d":"HFD","g":"CON","s":"WL 20","x":-4.5,"y":33},{"d":"HFD","g":"CON","s":"WL 20","x":-4,"y":37.5},{"d":"HFD","g":"CON","s":"WL 20","x":-3.5,"y":40.5},{"d":"HFD","g":"CON","s":"WL 20","x":-3,"y":43},{"d":"HFD","g":"CON","s":"WL 20","x":-2.5,"y":46},{"d":"HFD","g":"CON","s":"WL 20","x":-2,"y":49},{"d":"HFD","g":"CON","s":"WL 20","x":-1.5,"y":51.5},{"d":"HFD","g":"CON","s":"WL 20","x":-1,"y":54},{"d":"HFD","g":"CON","s":"WL 20","x":-0.5,"y":56.5},{"d":"HFD","g":"CON","s":"WL 20","x":0,"y":59},{"d":"HFD","g":"CON","s":"WL 20","x":0.5,"y":61.5},{"d":"HFD","g":"CON","s":"WL 20","x":1,"y":64.5},{"d":"HFD","g":"CON","s":"WL 20","x":1.5,"y":67.5},{"d":"HFD","g":"CON","s":"WL 20","x":2,"y":71},{"d":"HFD","g":"CON","s":"WL 20","x":2.5,"y":75},{"d":"HFD","g":"CON","s":"WL 20","x":3,"y":78.5},{"d":"HFD","g":"CON","s":"WL 20","x":3.5,"y":80.5},{"d":"HFD","g":"CON","s":"WL 20","x":4,"y":85},{"d":"HFD","g":"CON","s":"WL 20","x":4.5,"y":86.8},{"d":"HFD","g":"CON","s":"WL 20","x":4.7,"y":86.5},{"d":"HFD","g":"CON","s":"WL 20","x":4.85,"y":83},{"d":"HFD","g":"CON","s":"WL 20","x":4.93,"y":74},{"d":"HFD","g":"CON","s":"WL 20","x":4.95,"y":60},{"d":"HFD","g":"CON","s":"WL 20","x":4.93,"y":48},{"d":"HFD","g":"CON","s":"WL 20","x":4.85,"y":35},{"d":"HFD","g":"CON","s":"WL 20","x":4.6,"y":20},{"d":"HFD","g":"CON","s":"WL 20","x":4.4,"y":10},{"d":"HFD","g":"CON","s":"WL 20","x":4.2,"y":4},{"d":"HFD","g":"CON","s":"WL 20","x":4,"y":1.6},{"d":"HFD","g":"CON","s":"WL 20","x":3.85,"y":1.3},{"d":"HFD","g":"CON","s":"WL 20","x":3.6,"y":1.9},{"d":"HFD","g":"CON","s":"WL 20","x":3,"y":2.2},{"d":"HFD","g":"CON","s":"WL 20","x":2,"y":2.2},{"d":"HFD","g":"CON","s":"WL 20","x":1,"y":2.5},{"d":"HFD","g":"CON","s":"WL 20","x":0,"y":3},{"d":"HFD","g":"CON","s":"WL 20","x":-1,"y":3.8},{"d":"HFD","g":"CON","s":"WL 20","x":-2,"y":5.2},{"d":"HFD","g":"CON","s":"WL 20","x":-3,"y":7.8},{"d":"HFD","g":"CON","s":"WL 20","x":-4,"y":11},{"d":"HFD","g":"CON","s":"WL 20","x":-4.5,"y":13.5},{"d":"HFD","g":"CON","s":"WL 20","x":-4.9,"y":17},{"d":"HFD","g":"CON","s":"WL 20","x":-4.95,"y":22},
{"d":"HFD","g":"CON","s":"WL 30","x":-4.95,"y":29},{"d":"HFD","g":"CON","s":"WL 30","x":-4.85,"y":33},{"d":"HFD","g":"CON","s":"WL 30","x":-4.6,"y":37},{"d":"HFD","g":"CON","s":"WL 30","x":-4.3,"y":39.5},{"d":"HFD","g":"CON","s":"WL 30","x":-4,"y":40.5},{"d":"HFD","g":"CON","s":"WL 30","x":-3.5,"y":41},{"d":"HFD","g":"CON","s":"WL 30","x":-3,"y":42},{"d":"HFD","g":"CON","s":"WL 30","x":-2.5,"y":44},{"d":"HFD","g":"CON","s":"WL 30","x":-2,"y":46.5},{"d":"HFD","g":"CON","s":"WL 30","x":-1.5,"y":49},{"d":"HFD","g":"CON","s":"WL 30","x":-1,"y":51},{"d":"HFD","g":"CON","s":"WL 30","x":-0.5,"y":53},{"d":"HFD","g":"CON","s":"WL 30","x":0,"y":55},{"d":"HFD","g":"CON","s":"WL 30","x":0.5,"y":57.5},{"d":"HFD","g":"CON","s":"WL 30","x":1,"y":60},{"d":"HFD","g":"CON","s":"WL 30","x":1.5,"y":63},{"d":"HFD","g":"CON","s":"WL 30","x":2,"y":66.5},{"d":"HFD","g":"CON","s":"WL 30","x":2.5,"y":71},{"d":"HFD","g":"CON","s":"WL 30","x":3,"y":74},{"d":"HFD","g":"CON","s":"WL 30","x":3.5,"y":76.5},{"d":"HFD","g":"CON","s":"WL 30","x":4,"y":79},{"d":"HFD","g":"CON","s":"WL 30","x":4.5,"y":81.7},{"d":"HFD","g":"CON","s":"WL 30","x":4.7,"y":81.5},{"d":"HFD","g":"CON","s":"WL 30","x":4.85,"y":78},{"d":"HFD","g":"CON","s":"WL 30","x":4.93,"y":70},{"d":"HFD","g":"CON","s":"WL 30","x":4.95,"y":58},{"d":"HFD","g":"CON","s":"WL 30","x":4.93,"y":48},{"d":"HFD","g":"CON","s":"WL 30","x":4.85,"y":35},{"d":"HFD","g":"CON","s":"WL 30","x":4.6,"y":22},{"d":"HFD","g":"CON","s":"WL 30","x":4.4,"y":15},{"d":"HFD","g":"CON","s":"WL 30","x":4.2,"y":11},{"d":"HFD","g":"CON","s":"WL 30","x":4,"y":8.5},{"d":"HFD","g":"CON","s":"WL 30","x":3.8,"y":7.6},{"d":"HFD","g":"CON","s":"WL 30","x":3.5,"y":7.2},{"d":"HFD","g":"CON","s":"WL 30","x":3,"y":8.2},{"d":"HFD","g":"CON","s":"WL 30","x":2.5,"y":8.7},{"d":"HFD","g":"CON","s":"WL 30","x":2,"y":9.2},{"d":"HFD","g":"CON","s":"WL 30","x":1,"y":9.9},{"d":"HFD","g":"CON","s":"WL 30","x":0.5,"y":10.1},{"d":"HFD","g":"CON","s":"WL 30","x":0,"y":9.9},{"d":"HFD","g":"CON","s":"WL 30","x":-0.5,"y":10.6},{"d":"HFD","g":"CON","s":"WL 30","x":-1,"y":12},{"d":"HFD","g":"CON","s":"WL 30","x":-2,"y":14.1},{"d":"HFD","g":"CON","s":"WL 30","x":-3,"y":16.8},{"d":"HFD","g":"CON","s":"WL 30","x":-3.5,"y":18.9},{"d":"HFD","g":"CON","s":"WL 30","x":-4,"y":21},{"d":"HFD","g":"CON","s":"WL 30","x":-4.5,"y":24},{"d":"HFD","g":"CON","s":"WL 30","x":-4.8,"y":26.8},{"d":"HFD","g":"CON","s":"WL 30","x":-4.95,"y":29},
{"d":"HFD","g":"CON","s":"WL 40","x":-4.85,"y":34},{"d":"HFD","g":"CON","s":"WL 40","x":-4.75,"y":35.8},{"d":"HFD","g":"CON","s":"WL 40","x":-4.5,"y":35.8},{"d":"HFD","g":"CON","s":"WL 40","x":-4,"y":36.2},{"d":"HFD","g":"CON","s":"WL 40","x":-3.5,"y":36.6},{"d":"HFD","g":"CON","s":"WL 40","x":-3,"y":37},{"d":"HFD","g":"CON","s":"WL 40","x":-2.5,"y":38},{"d":"HFD","g":"CON","s":"WL 40","x":-2,"y":39.5},{"d":"HFD","g":"CON","s":"WL 40","x":-1.5,"y":41.2},{"d":"HFD","g":"CON","s":"WL 40","x":-1,"y":43},{"d":"HFD","g":"CON","s":"WL 40","x":-0.5,"y":44.5},{"d":"HFD","g":"CON","s":"WL 40","x":0,"y":46},{"d":"HFD","g":"CON","s":"WL 40","x":0.5,"y":48},{"d":"HFD","g":"CON","s":"WL 40","x":1,"y":51},{"d":"HFD","g":"CON","s":"WL 40","x":1.5,"y":54},{"d":"HFD","g":"CON","s":"WL 40","x":2,"y":57},{"d":"HFD","g":"CON","s":"WL 40","x":2.5,"y":59.5},{"d":"HFD","g":"CON","s":"WL 40","x":3,"y":63},{"d":"HFD","g":"CON","s":"WL 40","x":3.5,"y":66},{"d":"HFD","g":"CON","s":"WL 40","x":4,"y":69},{"d":"HFD","g":"CON","s":"WL 40","x":4.5,"y":72},{"d":"HFD","g":"CON","s":"WL 40","x":4.7,"y":72.8},{"d":"HFD","g":"CON","s":"WL 40","x":4.85,"y":71},{"d":"HFD","g":"CON","s":"WL 40","x":4.93,"y":64},{"d":"HFD","g":"CON","s":"WL 40","x":4.95,"y":55},{"d":"HFD","g":"CON","s":"WL 40","x":4.9,"y":45},{"d":"HFD","g":"CON","s":"WL 40","x":4.8,"y":38},{"d":"HFD","g":"CON","s":"WL 40","x":4.7,"y":33},{"d":"HFD","g":"CON","s":"WL 40","x":4.5,"y":25.7},{"d":"HFD","g":"CON","s":"WL 40","x":4.3,"y":21},{"d":"HFD","g":"CON","s":"WL 40","x":4.1,"y":18.4},{"d":"HFD","g":"CON","s":"WL 40","x":3.9,"y":17.8},{"d":"HFD","g":"CON","s":"WL 40","x":3.7,"y":18.3},{"d":"HFD","g":"CON","s":"WL 40","x":3.5,"y":19.5},{"d":"HFD","g":"CON","s":"WL 40","x":3,"y":20.4},{"d":"HFD","g":"CON","s":"WL 40","x":2,"y":22},{"d":"HFD","g":"CON","s":"WL 40","x":1,"y":23.6},{"d":"HFD","g":"CON","s":"WL 40","x":0,"y":25},{"d":"HFD","g":"CON","s":"WL 40","x":-0.5,"y":25.7},{"d":"HFD","g":"CON","s":"WL 40","x":-1,"y":26.8},{"d":"HFD","g":"CON","s":"WL 40","x":-1.5,"y":28.3},{"d":"HFD","g":"CON","s":"WL 40","x":-2,"y":29.3},{"d":"HFD","g":"CON","s":"WL 40","x":-3,"y":31},{"d":"HFD","g":"CON","s":"WL 40","x":-3.5,"y":32},{"d":"HFD","g":"CON","s":"WL 40","x":-4,"y":32.6},{"d":"HFD","g":"CON","s":"WL 40","x":-4.5,"y":32.4},{"d":"HFD","g":"CON","s":"WL 40","x":-4.75,"y":32.3},{"d":"HFD","g":"CON","s":"WL 40","x":-4.88,"y":33},{"d":"HFD","g":"CON","s":"WL 40","x":-4.85,"y":34},
{"d":"HFD","g":"VD","s":"WL 2","x":-4.95,"y":22},{"d":"HFD","g":"VD","s":"WL 2","x":-4.85,"y":26},{"d":"HFD","g":"VD","s":"WL 2","x":-4.6,"y":30.5},{"d":"HFD","g":"VD","s":"WL 2","x":-4.3,"y":33.5},{"d":"HFD","g":"VD","s":"WL 2","x":-4,"y":36.5},{"d":"HFD","g":"VD","s":"WL 2","x":-3.5,"y":40.5},{"d":"HFD","g":"VD","s":"WL 2","x":-3,"y":44.5},{"d":"HFD","g":"VD","s":"WL 2","x":-2.5,"y":48.5},{"d":"HFD","g":"VD","s":"WL 2","x":-2,"y":52},{"d":"HFD","g":"VD","s":"WL 2","x":-1.5,"y":55},{"d":"HFD","g":"VD","s":"WL 2","x":-1,"y":57.5},{"d":"HFD","g":"VD","s":"WL 2","x":-0.5,"y":59.5},{"d":"HFD","g":"VD","s":"WL 2","x":0,"y":61.5},{"d":"HFD","g":"VD","s":"WL 2","x":0.5,"y":63.3},{"d":"HFD","g":"VD","s":"WL 2","x":1,"y":65},{"d":"HFD","g":"VD","s":"WL 2","x":1.5,"y":67},{"d":"HFD","g":"VD","s":"WL 2","x":2,"y":70},{"d":"HFD","g":"VD","s":"WL 2","x":2.5,"y":73},{"d":"HFD","g":"VD","s":"WL 2","x":3,"y":76},{"d":"HFD","g":"VD","s":"WL 2","x":3.5,"y":79.5},{"d":"HFD","g":"VD","s":"WL 2","x":4,"y":83},{"d":"HFD","g":"VD","s":"WL 2","x":4.5,"y":85},{"d":"HFD","g":"VD","s":"WL 2","x":4.7,"y":84.7},{"d":"HFD","g":"VD","s":"WL 2","x":4.85,"y":82},{"d":"HFD","g":"VD","s":"WL 2","x":4.95,"y":72},{"d":"HFD","g":"VD","s":"WL 2","x":4.96,"y":55},{"d":"HFD","g":"VD","s":"WL 2","x":4.88,"y":40},{"d":"HFD","g":"VD","s":"WL 2","x":4.75,"y":30},{"d":"HFD","g":"VD","s":"WL 2","x":4.5,"y":17},{"d":"HFD","g":"VD","s":"WL 2","x":4.3,"y":11},{"d":"HFD","g":"VD","s":"WL 2","x":4,"y":6.2},{"d":"HFD","g":"VD","s":"WL 2","x":3.7,"y":3},{"d":"HFD","g":"VD","s":"WL 2","x":3.5,"y":1.5},{"d":"HFD","g":"VD","s":"WL 2","x":3,"y":0.6},{"d":"HFD","g":"VD","s":"WL 2","x":2,"y":0.6},{"d":"HFD","g":"VD","s":"WL 2","x":1,"y":0.7},{"d":"HFD","g":"VD","s":"WL 2","x":0,"y":0.6},{"d":"HFD","g":"VD","s":"WL 2","x":-1,"y":1},{"d":"HFD","g":"VD","s":"WL 2","x":-2,"y":1.2},{"d":"HFD","g":"VD","s":"WL 2","x":-3,"y":1.7},{"d":"HFD","g":"VD","s":"WL 2","x":-3.5,"y":2.5},{"d":"HFD","g":"VD","s":"WL 2","x":-4,"y":3.6},{"d":"HFD","g":"VD","s":"WL 2","x":-4.5,"y":5.7},{"d":"HFD","g":"VD","s":"WL 2","x":-4.9,"y":8.9},{"d":"HFD","g":"VD","s":"WL 2","x":-4.98,"y":13},{"d":"HFD","g":"VD","s":"WL 2","x":-4.98,"y":18},{"d":"HFD","g":"VD","s":"WL 2","x":-4.95,"y":22},
{"d":"HFD","g":"VD","s":"WL10","x":-4.95,"y":21},{"d":"HFD","g":"VD","s":"WL10","x":-4.85,"y":26},{"d":"HFD","g":"VD","s":"WL10","x":-4.5,"y":31},{"d":"HFD","g":"VD","s":"WL10","x":-4,"y":36.5},{"d":"HFD","g":"VD","s":"WL10","x":-3.5,"y":40.5},{"d":"HFD","g":"VD","s":"WL10","x":-3,"y":44.5},{"d":"HFD","g":"VD","s":"WL10","x":-2.5,"y":48},{"d":"HFD","g":"VD","s":"WL10","x":-2,"y":51},{"d":"HFD","g":"VD","s":"WL10","x":-1.5,"y":53.8},{"d":"HFD","g":"VD","s":"WL10","x":-1,"y":56},{"d":"HFD","g":"VD","s":"WL10","x":-0.5,"y":58},{"d":"HFD","g":"VD","s":"WL10","x":0,"y":60},{"d":"HFD","g":"VD","s":"WL10","x":0.5,"y":62},{"d":"HFD","g":"VD","s":"WL10","x":1,"y":63.5},{"d":"HFD","g":"VD","s":"WL10","x":1.5,"y":65.5},{"d":"HFD","g":"VD","s":"WL10","x":2,"y":68},{"d":"HFD","g":"VD","s":"WL10","x":2.5,"y":71},{"d":"HFD","g":"VD","s":"WL10","x":3,"y":74.5},{"d":"HFD","g":"VD","s":"WL10","x":3.5,"y":77.5},{"d":"HFD","g":"VD","s":"WL10","x":4,"y":81},{"d":"HFD","g":"VD","s":"WL10","x":4.5,"y":82.8},{"d":"HFD","g":"VD","s":"WL10","x":4.7,"y":82.5},{"d":"HFD","g":"VD","s":"WL10","x":4.85,"y":80},{"d":"HFD","g":"VD","s":"WL10","x":4.95,"y":70},{"d":"HFD","g":"VD","s":"WL10","x":4.95,"y":55},{"d":"HFD","g":"VD","s":"WL10","x":4.85,"y":40},{"d":"HFD","g":"VD","s":"WL10","x":4.7,"y":28},{"d":"HFD","g":"VD","s":"WL10","x":4.5,"y":18},{"d":"HFD","g":"VD","s":"WL10","x":4.3,"y":11},{"d":"HFD","g":"VD","s":"WL10","x":4,"y":7.8},{"d":"HFD","g":"VD","s":"WL10","x":3.5,"y":4.6},{"d":"HFD","g":"VD","s":"WL10","x":3,"y":2.5},{"d":"HFD","g":"VD","s":"WL10","x":2,"y":1.6},{"d":"HFD","g":"VD","s":"WL10","x":1,"y":1.5},{"d":"HFD","g":"VD","s":"WL10","x":0,"y":1.5},{"d":"HFD","g":"VD","s":"WL10","x":-1,"y":2},{"d":"HFD","g":"VD","s":"WL10","x":-2,"y":2.3},{"d":"HFD","g":"VD","s":"WL10","x":-3,"y":2.7},{"d":"HFD","g":"VD","s":"WL10","x":-3.5,"y":3.6},{"d":"HFD","g":"VD","s":"WL10","x":-4,"y":5.7},{"d":"HFD","g":"VD","s":"WL10","x":-4.5,"y":8.9},{"d":"HFD","g":"VD","s":"WL10","x":-4.9,"y":13},{"d":"HFD","g":"VD","s":"WL10","x":-4.98,"y":17},{"d":"HFD","g":"VD","s":"WL10","x":-4.95,"y":21},
{"d":"HFD","g":"VD","s":"WL 20","x":-4.95,"y":25},{"d":"HFD","g":"VD","s":"WL 20","x":-4.85,"y":30},{"d":"HFD","g":"VD","s":"WL 20","x":-4.5,"y":33.5},{"d":"HFD","g":"VD","s":"WL 20","x":-4,"y":38},{"d":"HFD","g":"VD","s":"WL 20","x":-3.5,"y":41},{"d":"HFD","g":"VD","s":"WL 20","x":-3,"y":44},{"d":"HFD","g":"VD","s":"WL 20","x":-2.5,"y":47},{"d":"HFD","g":"VD","s":"WL 20","x":-2,"y":49.5},{"d":"HFD","g":"VD","s":"WL 20","x":-1.5,"y":51.5},{"d":"HFD","g":"VD","s":"WL 20","x":-1,"y":53.5},{"d":"HFD","g":"VD","s":"WL 20","x":-0.5,"y":55},{"d":"HFD","g":"VD","s":"WL 20","x":0,"y":56},{"d":"HFD","g":"VD","s":"WL 20","x":0.5,"y":57.8},{"d":"HFD","g":"VD","s":"WL 20","x":1,"y":59.5},{"d":"HFD","g":"VD","s":"WL 20","x":1.5,"y":61.5},{"d":"HFD","g":"VD","s":"WL 20","x":2,"y":63.5},{"d":"HFD","g":"VD","s":"WL 20","x":2.5,"y":66},{"d":"HFD","g":"VD","s":"WL 20","x":3,"y":68.5},{"d":"HFD","g":"VD","s":"WL 20","x":3.5,"y":71.5},{"d":"HFD","g":"VD","s":"WL 20","x":3.8,"y":74.5},{"d":"HFD","g":"VD","s":"WL 20","x":4,"y":77.5},{"d":"HFD","g":"VD","s":"WL 20","x":4.3,"y":79.3},{"d":"HFD","g":"VD","s":"WL 20","x":4.6,"y":79.3},{"d":"HFD","g":"VD","s":"WL 20","x":4.8,"y":78},{"d":"HFD","g":"VD","s":"WL 20","x":4.92,"y":72},{"d":"HFD","g":"VD","s":"WL 20","x":4.95,"y":60},{"d":"HFD","g":"VD","s":"WL 20","x":4.95,"y":45},{"d":"HFD","g":"VD","s":"WL 20","x":4.85,"y":35},{"d":"HFD","g":"VD","s":"WL 20","x":4.7,"y":25},{"d":"HFD","g":"VD","s":"WL 20","x":4.5,"y":15},{"d":"HFD","g":"VD","s":"WL 20","x":4.3,"y":8.5},{"d":"HFD","g":"VD","s":"WL 20","x":4,"y":4.6},{"d":"HFD","g":"VD","s":"WL 20","x":3.7,"y":2.5},{"d":"HFD","g":"VD","s":"WL 20","x":3.3,"y":1.5},{"d":"HFD","g":"VD","s":"WL 20","x":3,"y":1.5},{"d":"HFD","g":"VD","s":"WL 20","x":2.5,"y":1.3},{"d":"HFD","g":"VD","s":"WL 20","x":2,"y":1},{"d":"HFD","g":"VD","s":"WL 20","x":1,"y":1.5},{"d":"HFD","g":"VD","s":"WL 20","x":0,"y":2},{"d":"HFD","g":"VD","s":"WL 20","x":-1,"y":3.1},{"d":"HFD","g":"VD","s":"WL 20","x":-2,"y":5.2},{"d":"HFD","g":"VD","s":"WL 20","x":-2.5,"y":6},{"d":"HFD","g":"VD","s":"WL 20","x":-3,"y":7.3},{"d":"HFD","g":"VD","s":"WL 20","x":-3.5,"y":9},{"d":"HFD","g":"VD","s":"WL 20","x":-4,"y":11.5},{"d":"HFD","g":"VD","s":"WL 20","x":-4.5,"y":13.6},{"d":"HFD","g":"VD","s":"WL 20","x":-4.9,"y":15.5},{"d":"HFD","g":"VD","s":"WL 20","x":-4.98,"y":19},{"d":"HFD","g":"VD","s":"WL 20","x":-4.95,"y":25},
{"d":"HFD","g":"VD","s":"WL 30","x":-5,"y":27},{"d":"HFD","g":"VD","s":"WL 30","x":-4.9,"y":31},{"d":"HFD","g":"VD","s":"WL 30","x":-4.7,"y":33},{"d":"HFD","g":"VD","s":"WL 30","x":-4.3,"y":35.5},{"d":"HFD","g":"VD","s":"WL 30","x":-4,"y":37.5},{"d":"HFD","g":"VD","s":"WL 30","x":-3.5,"y":41},{"d":"HFD","g":"VD","s":"WL 30","x":-3,"y":43.5},{"d":"HFD","g":"VD","s":"WL 30","x":-2.5,"y":45.3},{"d":"HFD","g":"VD","s":"WL 30","x":-2,"y":47},{"d":"HFD","g":"VD","s":"WL 30","x":-1.5,"y":48.8},{"d":"HFD","g":"VD","s":"WL 30","x":-1,"y":50.5},{"d":"HFD","g":"VD","s":"WL 30","x":-0.5,"y":52},{"d":"HFD","g":"VD","s":"WL 30","x":0,"y":53},{"d":"HFD","g":"VD","s":"WL 30","x":0.5,"y":54},{"d":"HFD","g":"VD","s":"WL 30","x":1,"y":56},{"d":"HFD","g":"VD","s":"WL 30","x":1.5,"y":58},{"d":"HFD","g":"VD","s":"WL 30","x":2,"y":60.5},{"d":"HFD","g":"VD","s":"WL 30","x":2.5,"y":63.5},{"d":"HFD","g":"VD","s":"WL 30","x":3,"y":66.5},{"d":"HFD","g":"VD","s":"WL 30","x":3.5,"y":70},{"d":"HFD","g":"VD","s":"WL 30","x":4,"y":74},{"d":"HFD","g":"VD","s":"WL 30","x":4.3,"y":76.3},{"d":"HFD","g":"VD","s":"WL 30","x":4.6,"y":77},{"d":"HFD","g":"VD","s":"WL 30","x":4.8,"y":75.5},{"d":"HFD","g":"VD","s":"WL 30","x":4.92,"y":70},{"d":"HFD","g":"VD","s":"WL 30","x":4.95,"y":55},{"d":"HFD","g":"VD","s":"WL 30","x":4.9,"y":40},{"d":"HFD","g":"VD","s":"WL 30","x":4.75,"y":28},{"d":"HFD","g":"VD","s":"WL 30","x":4.55,"y":18},{"d":"HFD","g":"VD","s":"WL 30","x":4.3,"y":12},{"d":"HFD","g":"VD","s":"WL 30","x":4,"y":7.8},{"d":"HFD","g":"VD","s":"WL 30","x":3.7,"y":6.3},{"d":"HFD","g":"VD","s":"WL 30","x":3.3,"y":5.6},{"d":"HFD","g":"VD","s":"WL 30","x":3,"y":5.5},{"d":"HFD","g":"VD","s":"WL 30","x":2,"y":5.7},{"d":"HFD","g":"VD","s":"WL 30","x":1,"y":6.2},{"d":"HFD","g":"VD","s":"WL 30","x":0,"y":7.8},{"d":"HFD","g":"VD","s":"WL 30","x":-1,"y":9.4},{"d":"HFD","g":"VD","s":"WL 30","x":-2,"y":11},{"d":"HFD","g":"VD","s":"WL 30","x":-3,"y":14.1},{"d":"HFD","g":"VD","s":"WL 30","x":-4,"y":17.8},{"d":"HFD","g":"VD","s":"WL 30","x":-4.5,"y":21},{"d":"HFD","g":"VD","s":"WL 30","x":-4.8,"y":23.1},{"d":"HFD","g":"VD","s":"WL 30","x":-5,"y":27},
{"d":"HFD","g":"VD","s":"WL 40","x":-4.97,"y":33.5},{"d":"HFD","g":"VD","s":"WL 40","x":-4.85,"y":34.8},{"d":"HFD","g":"VD","s":"WL 40","x":-4.5,"y":35.2},{"d":"HFD","g":"VD","s":"WL 40","x":-4,"y":36},{"d":"HFD","g":"VD","s":"WL 40","x":-3.5,"y":37.3},{"d":"HFD","g":"VD","s":"WL 40","x":-3,"y":38.5},{"d":"HFD","g":"VD","s":"WL 40","x":-2.5,"y":39.7},{"d":"HFD","g":"VD","s":"WL 40","x":-2,"y":41},{"d":"HFD","g":"VD","s":"WL 40","x":-1.5,"y":42.5},{"d":"HFD","g":"VD","s":"WL 40","x":-1,"y":44},{"d":"HFD","g":"VD","s":"WL 40","x":-0.5,"y":45.4},{"d":"HFD","g":"VD","s":"WL 40","x":0,"y":46.8},{"d":"HFD","g":"VD","s":"WL 40","x":0.5,"y":48.2},{"d":"HFD","g":"VD","s":"WL 40","x":1,"y":49.5},{"d":"HFD","g":"VD","s":"WL 40","x":1.5,"y":51.2},{"d":"HFD","g":"VD","s":"WL 40","x":2,"y":53},{"d":"HFD","g":"VD","s":"WL 40","x":2.5,"y":56},{"d":"HFD","g":"VD","s":"WL 40","x":3,"y":59},{"d":"HFD","g":"VD","s":"WL 40","x":3.5,"y":62},{"d":"HFD","g":"VD","s":"WL 40","x":4,"y":66},{"d":"HFD","g":"VD","s":"WL 40","x":4.3,"y":69},{"d":"HFD","g":"VD","s":"WL 40","x":4.5,"y":72.5},{"d":"HFD","g":"VD","s":"WL 40","x":4.7,"y":73},{"d":"HFD","g":"VD","s":"WL 40","x":4.85,"y":71.5},{"d":"HFD","g":"VD","s":"WL 40","x":4.95,"y":65},{"d":"HFD","g":"VD","s":"WL 40","x":4.95,"y":52},{"d":"HFD","g":"VD","s":"WL 40","x":4.85,"y":47},{"d":"HFD","g":"VD","s":"WL 40","x":4.7,"y":40},{"d":"HFD","g":"VD","s":"WL 40","x":4.6,"y":36},{"d":"HFD","g":"VD","s":"WL 40","x":4.5,"y":32},{"d":"HFD","g":"VD","s":"WL 40","x":4.3,"y":26.8},{"d":"HFD","g":"VD","s":"WL 40","x":4.1,"y":23.5},{"d":"HFD","g":"VD","s":"WL 40","x":3.9,"y":20},{"d":"HFD","g":"VD","s":"WL 40","x":3.7,"y":18.6},{"d":"HFD","g":"VD","s":"WL 40","x":3.5,"y":18.2},{"d":"HFD","g":"VD","s":"WL 40","x":3,"y":18.9},{"d":"HFD","g":"VD","s":"WL 40","x":2,"y":19.6},{"d":"HFD","g":"VD","s":"WL 40","x":1,"y":21},{"d":"HFD","g":"VD","s":"WL 40","x":0,"y":22.8},{"d":"HFD","g":"VD","s":"WL 40","x":-0.5,"y":23.5},{"d":"HFD","g":"VD","s":"WL 40","x":-1,"y":24.7},{"d":"HFD","g":"VD","s":"WL 40","x":-1.5,"y":26.3},{"d":"HFD","g":"VD","s":"WL 40","x":-2,"y":27.3},{"d":"HFD","g":"VD","s":"WL 40","x":-3,"y":29.5},{"d":"HFD","g":"VD","s":"WL 40","x":-3.5,"y":30.7},{"d":"HFD","g":"VD","s":"WL 40","x":-4,"y":31.4},{"d":"HFD","g":"VD","s":"WL 40","x":-4.5,"y":31.3},{"d":"HFD","g":"VD","s":"WL 40","x":-4.85,"y":31.8},{"d":"HFD","g":"VD","s":"WL 40","x":-4.97,"y":33},{"d":"HFD","g":"VD","s":"WL 40","x":-4.97,"y":33.5}
]},
"facet": {
  "row": {"field": "d", "type": "nominal", "sort": ["SLD", "HFD"], "header": {"title": null, "labelAngle": 0, "labelOrient": "left", "labelAlign": "right", "labelFontSize": 32, "labelFontWeight": "bold", "labelFont": "Liberation Sans", "labelColor": "#231f20", "labelPadding": 15}},
  "column": {"field": "g", "type": "nominal", "sort": ["CON", "VD"], "header": {"title": null, "labelFontSize": 34, "labelFontWeight": "bold", "labelFont": "Liberation Sans", "labelColor": "#231f20", "labelPadding": 2}}
},
"spacing": {"row": 116, "column": 81},
"bounds": "flush",
"resolve": {"axis": {"x": "independent", "y": "independent"}},
"spec": {
  "width": 520,
  "height": 318,
  "layer": [
    {
      "transform": [{"filter": "isValid(datum.x)"}],
      "mark": {"type": "line", "strokeWidth": 3.5, "strokeJoin": "round", "strokeCap": "round", "interpolate": "catmull-rom", "clip": false},
      "encoding": {
        "x": {"field": "x", "type": "quantitative", "scale": {"domain": [-6, 6], "nice": false, "zero": false},
          "axis": {"title": "Strain Amplitude (%L₀)", "values": [-6,-5,-4,-3,-2,-1,0,1,2,3,4,5,6], "tickCount": 30, "labelExpr": "'' + datum.value", "grid": false, "labelOverlap": false, "domainColor": "#000", "domainWidth": 2, "tickColor": "#000", "tickWidth": 2, "tickSize": 7, "labelFont": "Liberation Sans", "labelFontWeight": "bold", "labelFontSize": 12, "labelColor": "#231f20", "labelPadding": 9, "titleFont": "Liberation Sans", "titleFontWeight": "bold", "titleFontSize": 14, "titleColor": "#231f20", "titlePadding": 5}},
        "y": {"field": "y", "type": "quantitative", "scale": {"domain": [0, 100], "nice": false},
          "axis": {"title": "Force (mN)", "values": [0,5,10,15,20,25,30,35,40,45,50,55,60,65,70,75,80,85,90,95,100], "tickCount": 50, "labelExpr": "datum.value % 10 === 0 ? '' + datum.value : ''", "labelOverlap": false, "grid": false, "domainColor": "#000", "domainWidth": 2, "tickColor": "#000", "tickWidth": 2, "tickSize": {"condition": {"test": "datum.value % 10 === 0", "value": 7}, "value": 4}, "labelFont": "Liberation Sans", "labelFontWeight": "bold", "labelFontSize": 12, "labelColor": "#231f20", "labelPadding": 1, "titleFont": "Liberation Sans", "titleFontWeight": "bold", "titleFontSize": 14, "titleColor": "#231f20", "titlePadding": 10}},
        "color": {"field": "s", "type": "nominal", "scale": {"domain": ["WL 2", "WL10", "WL 20", "WL 30", "WL 40"], "range": ["#000000", "#ed1c24", "#5bb543", "#808080", "#3f6fbf"]},
          "legend": {"orient": "none", "legendX": 1091, "legendY": -6, "title": null, "padding": 0, "rowPadding": 2.3, "symbolType": "M-1.27,0H1.27", "symbolSize": 484, "symbolStrokeWidth": 3.5, "labelOffset": 7, "labelFont": "Liberation Sans", "labelFontSize": 14, "labelColor": "#231f20"}},
        "order": {"value": null}
      }
    },
    {
      "transform": [{"filter": "isValid(datum.lab)"}],
      "mark": {"type": "text", "align": "right", "baseline": "middle", "dx": -40, "dy": -25, "fontSize": 24, "font": "Liberation Sans", "color": "#231f20"},
      "encoding": {
        "x": {"datum": -6, "type": "quantitative"},
        "y": {"datum": 100, "type": "quantitative"},
        "text": {"field": "lab", "type": "nominal"}
      }
    }
  ]
}
}
